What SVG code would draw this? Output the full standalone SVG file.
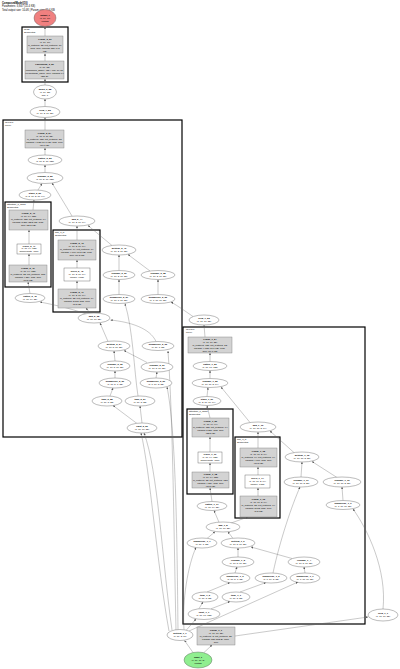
<svg xmlns="http://www.w3.org/2000/svg" width="400" height="669" viewBox="0 0 400 669">
<style>
.e{fill:#fff;stroke:#555;stroke-width:0.4}
.g{fill:#d3d3d3;stroke:#777;stroke-width:0.4}
.w{fill:#fff;stroke:#555;stroke-width:0.4}
.c{fill:none;stroke:#000;stroke-width:1.2}
.t{font-family:"Liberation Sans",Arial,sans-serif;font-size:2.3px;text-anchor:middle;fill:#000}
.b{font-weight:bold}
.cl{font-family:"Liberation Sans",Arial,sans-serif;font-size:2.4px;fill:#000}
.h{font-family:"Liberation Sans",Arial,sans-serif;font-size:2.6px;fill:#000}
#edges path{fill:none;stroke:#666;stroke-width:0.35;marker-end:url(#a)}
</style>
<defs>
<marker id="a" viewBox="0 0 10 10" refX="10" refY="5" markerWidth="2.2" markerHeight="2.2" markerUnits="userSpaceOnUse" orient="auto"><path d="M0,0 L10,5 L0,10 z" fill="#555"/></marker>
</defs>
<rect width="400" height="669" fill="#fff"/>
<g id="header">
<text class="h b" x="2" y="4">ComposedModel(10)</text>
<text class="h" x="2" y="7.3">Parameters: 3,847 (15.4 KB)</text>
<text class="h" x="2" y="10.6">Total output size: 10.4K | Param size: 15.4 KB</text>
</g>
<g id="clusters">
<rect class="c" x="22" y="27" width="46" height="55"/>
<text class="cl" x="24" y="30">head</text><text class="cl" x="24" y="33">Sequential</text>
<rect class="c" x="3" y="120" width="179" height="317"/>
<text class="cl" x="5" y="123">layers.1</text><text class="cl" x="5" y="126">Layer</text>
<rect class="c" x="5" y="202" width="46" height="85"/>
<text class="cl" x="7" y="205">attention_1_block</text><text class="cl" x="7" y="208">Sequential</text>
<rect class="c" x="53" y="230" width="47" height="82"/>
<text class="cl" x="55" y="233">mlp_1_ff</text><text class="cl" x="55" y="236">Sequential</text>
<rect class="c" x="183" y="327" width="182" height="297"/>
<text class="cl" x="186" y="330">layers.0</text><text class="cl" x="186" y="333">Layer</text>
<rect class="c" x="187" y="409" width="46" height="85"/>
<text class="cl" x="189" y="412">attention_0_block</text><text class="cl" x="189" y="415">Sequential</text>
<rect class="c" x="235" y="437" width="45" height="81"/>
<text class="cl" x="237" y="440">mlp_0_ff</text><text class="cl" x="237" y="443">Sequential</text>
</g>
<g id="edges">
<path d="M45,36 L45,27"/>
<path d="M45,61 L45,53.5"/>
<path d="M45,85 L45,79"/>
<path d="M45,106.5 L45,99"/>
<path d="M45,130 L45,117.5"/>
<path d="M45,155 L45,148"/>
<path d="M45,172.5 L45,165"/>
<path d="M38,190 L42,183.5"/>
<path d="M72,216 L52,183"/>
<path d="M33,210 L34,200"/>
<path d="M29,244 L29,230"/>
<path d="M29,265 L29,254"/>
<path d="M30,293.5 L28,282"/>
<path d="M86,314 C70,308 50,304 40,302"/>
<path d="M77,240 L77,226"/>
<path d="M77,268 L77,260"/>
<path d="M77,289 L77,281"/>
<path d="M90,313 L86,308"/>
<path d="M112,245.5 L88,225.5"/>
<path d="M119,270.5 L119,255"/>
<path d="M150,271 L128,254.5"/>
<path d="M119,294.5 L119,279.5"/>
<path d="M158,294.5 L158,279.5"/>
<path d="M193,316.5 C185,311 178,306 171,302"/>
<path d="M138,396 C134,370 133,330 125,303.5"/>
<path d="M108,341.5 L100,323"/>
<path d="M156,341.5 C150,328 130,322 110.5,320"/>
<path d="M115,361 L114,351"/>
<path d="M147,362.5 L124,350.5"/>
<path d="M115,378 L115,371"/>
<path d="M156,378 L157,372"/>
<path d="M110,396 L113,388"/>
<path d="M137,423.5 L113,405.5"/>
<path d="M142,423 L140,406"/>
<path d="M172,630 C162,560 158,470 144,433"/>
<path d="M169,631 C157,565 150,470 141,433"/>
<path d="M176,630 C174,540 173,420 168,351"/>
<path d="M178,630 C177,540 176,430 167,387"/>
<path d="M205,337 L204,325"/>
<path d="M210,361.5 L210,353"/>
<path d="M210,378.5 L210,370.5"/>
<path d="M207,396.5 L208,387.5"/>
<path d="M250,422.5 L221,387"/>
<path d="M210,418 L207,405.5"/>
<path d="M210,452 L210,437"/>
<path d="M210,472 L210,463"/>
<path d="M212,501.5 L210,488"/>
<path d="M258,448 L258,432"/>
<path d="M258,475 L258,467"/>
<path d="M258,496 L258,488"/>
<path d="M231,523 L248,517"/>
<path d="M219,522.3 L214,510.5"/>
<path d="M294,452.6 L270,431"/>
<path d="M301,477 L302,462"/>
<path d="M337,477.5 L312,461.5"/>
<path d="M343,500.5 L342,487"/>
<path d="M383,609 C387,570 368,530 353,509"/>
<path d="M207,538.5 L215,531.8"/>
<path d="M233,538.5 L228,531.8"/>
<path d="M238,557 L238,548"/>
<path d="M292,558.5 L251,547"/>
<path d="M235,573 L237,567"/>
<path d="M305,573 L304,567"/>
<path d="M273,573 C280,540 292,505 300,487"/>
<path d="M207,592 L230,582.5"/>
<path d="M240,592 L266,582.5"/>
<path d="M199,608.6 L203,602"/>
<path d="M211,608.8 L230,601.5"/>
<path d="M184,629.5 C182,600 188,565 196,547.5"/>
<path d="M186,630.5 L196,619"/>
<path d="M189,631 L298,582"/>
<path d="M235,636 L368,617"/>
<path d="M193,652.5 L184.5,640.5"/>
<path d="M204,652.5 L212,645"/>
</g>
<g id="n_output"><ellipse cx="45" cy="18" rx="11" ry="8.5" fill="#f08080" stroke="#555" stroke-width="0.4"/>
<text class="t b" x="45" y="15.5">output_1</text><text class="t" x="45" y="18.5">(1, 16, 10)</text><text class="t" x="45" y="21.5">float32</text></g>
<g id="n_head_linear"><rect class="g" x="27" y="36" width="36" height="17"/>
<text class="t b" x="45" y="39.5">Linear_3_61</text><text class="t" x="45" y="42.5">(1, 16, 10)</text><text class="t" x="45" y="45.5">in_features=32, out_features=10,</text><text class="t" x="45" y="48.5">bias=True, params: 330 (1.3</text><text class="t" x="45" y="51.5">KB)</text></g>
<g id="n_head_norm"><rect class="g" x="25" y="61" width="39" height="18"/>
<text class="t b" x="44.5" y="64.5">LayerNorm_3_59</text><text class="t" x="44.5" y="67.5">(1, 16, 32)</text><text class="t" x="44.5" y="70.5">normalized_shape=(32,), eps=1e-05,</text><text class="t" x="44.5" y="73.5">elementwise_affine=True, params: 64</text><text class="t" x="44.5" y="76.5">(256 B)</text></g>
<g id="n_mean"><ellipse class="e" cx="45" cy="92" rx="11.5" ry="7"/>
<text class="t b" x="45" y="89.5">mean_3_58</text><text class="t" x="45" y="92.5">(1, 16, 32)</text><text class="t" x="45" y="95.5">dim=1</text></g>
<g id="n_view"><ellipse class="e" cx="45" cy="112" rx="15" ry="5.5"/>
<text class="t b" x="45" y="111">view_7_55</text><text class="t" x="45" y="114">(1, 16, 2, 16, 32)</text></g>
<g id="n_l1_linear"><rect class="g" x="25" y="130" width="39" height="18"/>
<text class="t b" x="44.5" y="133.5">Linear_2_54</text><text class="t" x="44.5" y="136.5">(1, 16, 2, 16, 32)</text><text class="t" x="44.5" y="139.5">in_features=128, out_features=32,</text><text class="t" x="44.5" y="142.5">params: 4,128 (16.1 KB), bias=True</text><text class="t" x="44.5" y="145.5">(16.1 KB)</text></g>
<g id="n_flatten1"><ellipse class="e" cx="45" cy="160" rx="17" ry="5"/>
<text class="t b" x="45" y="159">flatten_2_53</text><text class="t" x="45" y="162">(1, 16, 2, 16, 128)</text></g>
<g id="n_reshape1"><ellipse class="e" cx="45" cy="178" rx="18" ry="5.5"/>
<text class="t b" x="45" y="177">reshape_2_52</text><text class="t" x="45" y="180">(1, 16, 2, 16, 128)</text></g>
<g id="n_stack1"><ellipse class="e" cx="35" cy="195" rx="16" ry="5"/>
<text class="t b" x="35" y="194">stack_2_50</text><text class="t" x="35" y="197">(1, 2, 16, 2, 16, 64)</text></g>
<g id="n_l1_a_lin1"><rect class="g" x="9" y="210" width="39" height="20"/>
<text class="t b" x="28.5" y="214">Linear_2_49</text><text class="t" x="28.5" y="217">(1, 16, 64, 128)</text><text class="t" x="28.5" y="220">in_features=128, out_features=64,</text><text class="t" x="28.5" y="223">params: 8,256 (32.2 KB), bias=</text><text class="t" x="28.5" y="226">True (32.2 KB)</text></g>
<g id="n_l1_a_gelu"><rect class="w" x="17" y="244" width="24" height="10"/>
<text class="t b" x="29" y="246.8">GELU_2_47</text><text class="t" x="29" y="249.4">(1, 16, 64, 128)</text><text class="t" x="29" y="252">approximate=none</text></g>
<g id="n_l1_a_lin0"><rect class="g" x="9" y="265" width="38" height="17"/>
<text class="t b" x="28" y="268.5">Linear_2_46</text><text class="t" x="28" y="271.5">(1, 16, 64, 128)</text><text class="t" x="28" y="274.5">in_features=32, out_features=128,</text><text class="t" x="28" y="277.5">params: 4,224, bias=True</text><text class="t" x="28" y="280.5">(16.5 KB)</text></g>
<g id="n_flatten2"><ellipse class="e" cx="30" cy="298" rx="15" ry="4.5"/>
<text class="t b" x="30" y="297">flatten_2_45</text><text class="t" x="30" y="300">(1, 16, 64, 32)</text></g>
<g id="n_add1"><ellipse class="e" cx="77" cy="221" rx="18" ry="5"/>
<text class="t b" x="77" y="220">add_2_44</text><text class="t" x="77" y="223">(1, 16, 2, 16, 64)</text></g>
<g id="n_l1_b_lin"><rect class="g" x="58" y="240" width="38" height="20"/>
<text class="t b" x="77" y="244">Linear_2_43</text><text class="t" x="77" y="247">(1, 16, 2, 16, 64)</text><text class="t" x="77" y="250">in_features=64, out_features=64,</text><text class="t" x="77" y="253">params: 4,160 (16.3 KB), bias=</text><text class="t" x="77" y="256">True (16.3 KB)</text></g>
<g id="n_l1_b_relu"><rect class="w" x="64" y="268" width="26" height="13"/>
<text class="t b" x="77" y="271.5">ReLU_2_42</text><text class="t" x="77" y="274.5">(1, 16, 2, 16, 64)</text><text class="t" x="77" y="277.5">inplace=False</text></g>
<g id="n_l1_b_lin0"><rect class="g" x="58" y="289" width="38" height="19"/>
<text class="t b" x="77" y="292.8">Linear_2_41</text><text class="t" x="77" y="295.8">(1, 16, 2, 16, 64)</text><text class="t" x="77" y="298.8">in_features=32, out_features=64,</text><text class="t" x="77" y="301.8">params: 2,112, bias=True</text><text class="t" x="77" y="304.8">(8.3 KB)</text></g>
<g id="n_getitem1"><ellipse class="e" cx="119" cy="250" rx="17" ry="5"/>
<text class="t b" x="119" y="249">getitem_2_40</text><text class="t" x="119" y="252">(1, 16, 2, 16, 32)</text></g>
<g id="n_reshape2"><ellipse class="e" cx="119" cy="275" rx="16" ry="4.5"/>
<text class="t b" x="119" y="274">reshape_2_39</text><text class="t" x="119" y="277">(1, 16, 2, 16, 32)</text></g>
<g id="n_reshape3"><ellipse class="e" cx="158" cy="275" rx="17" ry="4.5"/>
<text class="t b" x="158" y="274">reshape_2_38</text><text class="t" x="158" y="277">(1, 16, 2, 16, 32)</text></g>
<g id="n_unsq1"><ellipse class="e" cx="119" cy="299" rx="16" ry="4.5"/>
<text class="t b" x="119" y="298">unsqueeze_2_37</text><text class="t" x="119" y="301">(1, 16, 1, 16, 32)</text></g>
<g id="n_unsq2"><ellipse class="e" cx="158" cy="299" rx="17" ry="4.5"/>
<text class="t b" x="158" y="298">unsqueeze_2_36</text><text class="t" x="158" y="301">(1, 1, 16, 16, 32)</text></g>
<g id="n_add2"><ellipse class="e" cx="94" cy="318" rx="16" ry="5"/>
<text class="t b" x="94" y="317">add_2_35</text><text class="t" x="94" y="320">(1, 16, 16, 32)</text></g>
<g id="n_getitem2"><ellipse class="e" cx="114" cy="346" rx="16" ry="5"/>
<text class="t b" x="114" y="345">getitem_2_34</text><text class="t" x="114" y="348">(1, 16, 5, 16, 32)</text></g>
<g id="n_unsq3"><ellipse class="e" cx="158" cy="346" rx="16" ry="4.5"/>
<text class="t b" x="158" y="345">unsqueeze_2_33</text><text class="t" x="158" y="348">(1, 16, 1, 32)</text></g>
<g id="n_reshape4"><ellipse class="e" cx="115" cy="366" rx="15" ry="5"/>
<text class="t b" x="115" y="365">reshape_2_32</text><text class="t" x="115" y="368">(1, 16, 5, 16, 32)</text></g>
<g id="n_reshape5"><ellipse class="e" cx="157" cy="367" rx="16" ry="5"/>
<text class="t b" x="157" y="366">reshape_2_31</text><text class="t" x="157" y="369">(1, 16, 5, 16, 32)</text></g>
<g id="n_unsq4"><ellipse class="e" cx="115" cy="383" rx="16" ry="5"/>
<text class="t b" x="115" y="382">unsqueeze_2_30</text><text class="t" x="115" y="385">(1, 16, 5, 1, 32)</text></g>
<g id="n_unsq5"><ellipse class="e" cx="156" cy="383" rx="16" ry="5"/>
<text class="t b" x="156" y="382">unsqueeze_2_29</text><text class="t" x="156" y="385">(1, 1, 16, 5, 32)</text></g>
<g id="n_topk1"><ellipse class="e" cx="107" cy="401" rx="15" ry="5"/>
<text class="t b" x="107" y="400">topk_2_28</text><text class="t" x="107" y="403">(1, 16, 5, 32)</text></g>
<g id="n_topk2"><ellipse class="e" cx="140" cy="401" rx="15" ry="5"/>
<text class="t b" x="140" y="400">topk_2_27</text><text class="t" x="140" y="403">(1, 16, 5, 32)</text></g>
<g id="n_cdist1"><ellipse class="e" cx="142" cy="428" rx="15" ry="5"/>
<text class="t b" x="142" y="427">cdist_2_26</text><text class="t" x="142" y="430">(1, 16, 16, 32)</text></g>
<g id="n_stack0"><ellipse class="e" cx="204" cy="320" rx="15" ry="5"/>
<text class="t b" x="204" y="319">view_1_25</text><text class="t" x="204" y="322">(1, 16, 16, 32)</text></g>
<g id="n_l0_linear"><rect class="g" x="188" y="337" width="44" height="16"/>
<text class="t b" x="210" y="340.3">Linear_1_24</text><text class="t" x="210" y="343.3">(1, 16, 16, 32)</text><text class="t" x="210" y="346.3">in_features=128, out_features=32,</text><text class="t" x="210" y="349.3">params: 4,128 (16.1 KB), bias=</text><text class="t" x="210" y="352.3">True (16.1 KB)</text></g>
<g id="n_flatten3"><ellipse class="e" cx="210" cy="366" rx="17" ry="4.5"/>
<text class="t b" x="210" y="365">flatten_1_23</text><text class="t" x="210" y="368">(1, 16, 16, 128)</text></g>
<g id="n_reshape6"><ellipse class="e" cx="210" cy="383" rx="18" ry="4.5"/>
<text class="t b" x="210" y="382">reshape_1_22</text><text class="t" x="210" y="385">(1, 16, 16, 2, 64)</text></g>
<g id="n_stack2"><ellipse class="e" cx="207" cy="401" rx="14" ry="4.5"/>
<text class="t b" x="207" y="400">stack_1_21</text><text class="t" x="207" y="403">(1, 2, 16, 16, 64)</text></g>
<g id="n_l0_a_lin1"><rect class="g" x="192" y="418" width="37" height="19"/>
<text class="t b" x="210.5" y="421.8">Linear_1_20</text><text class="t" x="210.5" y="424.8">(1, 16, 64, 64)</text><text class="t" x="210.5" y="427.8">in_features=128, out_features=64,</text><text class="t" x="210.5" y="430.8">params: 8,256, bias=True</text><text class="t" x="210.5" y="433.8">(32.2 KB)</text></g>
<g id="n_l0_a_gelu"><rect class="w" x="198" y="452" width="24" height="11"/>
<text class="t b" x="210" y="455.2">GELU_1_19</text><text class="t" x="210" y="457.9">(1, 16, 64, 128)</text><text class="t" x="210" y="460.6">approximate=none</text></g>
<g id="n_l0_a_lin0"><rect class="g" x="192" y="472" width="37" height="16"/>
<text class="t b" x="210.5" y="475.3">Linear_1_18</text><text class="t" x="210.5" y="478.3">(1, 16, 64, 128)</text><text class="t" x="210.5" y="481.3">in_features=32, out_features=128,</text><text class="t" x="210.5" y="484.3">params: 4,224, bias=True</text><text class="t" x="210.5" y="487.3">(16.5 KB)</text></g>
<g id="n_flatten4"><ellipse class="e" cx="212" cy="506" rx="15" ry="4.5"/>
<text class="t b" x="212" y="505">flatten_1_17</text><text class="t" x="212" y="508">(1, 16, 64, 32)</text></g>
<g id="n_add3"><ellipse class="e" cx="258" cy="427" rx="18" ry="5"/>
<text class="t b" x="258" y="426">add_1_16</text><text class="t" x="258" y="429">(1, 16, 16, 2, 64)</text></g>
<g id="n_l0_b_lin"><rect class="g" x="240" y="448" width="37" height="19"/>
<text class="t b" x="258.5" y="451.8">Linear_1_15</text><text class="t" x="258.5" y="454.8">(1, 16, 16, 2, 64)</text><text class="t" x="258.5" y="457.8">in_features=64, out_features=64,</text><text class="t" x="258.5" y="460.8">params: 4,160, bias=True</text><text class="t" x="258.5" y="463.8">(16.3 KB)</text></g>
<g id="n_l0_b_relu"><rect class="w" x="245" y="475" width="25" height="13"/>
<text class="t b" x="257.5" y="478.5">ReLU_1_14</text><text class="t" x="257.5" y="481.5">(1, 16, 16, 2, 64)</text><text class="t" x="257.5" y="484.5">inplace=False</text></g>
<g id="n_l0_b_lin0"><rect class="g" x="240" y="496" width="37" height="21"/>
<text class="t b" x="258.5" y="500">Linear_1_13</text><text class="t" x="258.5" y="503">(1, 16, 16, 2, 64)</text><text class="t" x="258.5" y="506">in_features=32, out_features=64,</text><text class="t" x="258.5" y="509">params: 2,112, bias=True</text><text class="t" x="258.5" y="512">(8.3 KB)</text></g>
<g id="n_getitem3"><ellipse class="e" cx="302" cy="457" rx="17" ry="5"/>
<text class="t b" x="302" y="456">getitem_1_12</text><text class="t" x="302" y="459">(1, 16, 16, 2, 32)</text></g>
<g id="n_reshape7"><ellipse class="e" cx="301" cy="482" rx="17" ry="5"/>
<text class="t b" x="301" y="481">reshape_1_11</text><text class="t" x="301" y="484">(1, 16, 16, 2, 32)</text></g>
<g id="n_reshape8"><ellipse class="e" cx="342" cy="482" rx="19" ry="5"/>
<text class="t b" x="342" y="481">reshape_1_10</text><text class="t" x="342" y="484">(1, 16, 16, 2, 32)</text></g>
<g id="n_unsq6"><ellipse class="e" cx="343" cy="505" rx="17" ry="4.5"/>
<text class="t b" x="343" y="504">unsqueeze_1_9</text><text class="t" x="343" y="507">(1, 1, 16, 16, 32)</text></g>
<g id="n_add4"><ellipse class="e" cx="223" cy="527" rx="17" ry="5"/>
<text class="t b" x="223" y="526">add_1_8</text><text class="t" x="223" y="529">(1, 16, 16, 32)</text></g>
<g id="n_unsq7"><ellipse class="e" cx="202" cy="543" rx="15" ry="5"/>
<text class="t b" x="202" y="542">unsqueeze_1_7</text><text class="t" x="202" y="545">(1, 16, 1, 32)</text></g>
<g id="n_getitem4"><ellipse class="e" cx="238" cy="543" rx="17" ry="5"/>
<text class="t b" x="238" y="542">getitem_1_6</text><text class="t" x="238" y="545">(1, 16, 5, 16, 32)</text></g>
<g id="n_reshape9"><ellipse class="e" cx="238" cy="562" rx="16" ry="5"/>
<text class="t b" x="238" y="561">reshape_1_5</text><text class="t" x="238" y="564">(1, 16, 5, 16, 32)</text></g>
<g id="n_reshape10"><ellipse class="e" cx="304" cy="562" rx="16" ry="5"/>
<text class="t b" x="304" y="561">reshape_1_4</text><text class="t" x="304" y="564">(1, 16, 5, 16, 32)</text></g>
<g id="n_unsq8"><ellipse class="e" cx="235" cy="578" rx="15" ry="5"/>
<text class="t b" x="235" y="577">unsqueeze_1_3</text><text class="t" x="235" y="580">(1, 16, 5, 1, 32)</text></g>
<g id="n_unsq9"><ellipse class="e" cx="271" cy="578" rx="16" ry="5"/>
<text class="t b" x="271" y="577">unsqueeze_1_2</text><text class="t" x="271" y="580">(1, 1, 16, 5, 32)</text></g>
<g id="n_unsq10"><ellipse class="e" cx="305" cy="578" rx="15" ry="5"/>
<text class="t b" x="305" y="577">unsqueeze_1_1</text><text class="t" x="305" y="580">(1, 1, 16, 16, 32)</text></g>
<g id="n_topk3"><ellipse class="e" cx="205" cy="597" rx="13" ry="5"/>
<text class="t b" x="205" y="596">topk_1_2</text><text class="t" x="205" y="599">(1, 16, 5, 32)</text></g>
<g id="n_topk4"><ellipse class="e" cx="236" cy="597" rx="14" ry="5"/>
<text class="t b" x="236" y="596">topk_1_1</text><text class="t" x="236" y="599">(1, 16, 5, 32)</text></g>
<g id="n_cdist2"><ellipse class="e" cx="204" cy="614" rx="16" ry="5.5"/>
<text class="t b" x="204" y="613">cdist_1_1</text><text class="t" x="204" y="616">(1, 16, 16, 128)</text></g>
<g id="n_view2"><ellipse class="e" cx="383" cy="615" rx="15" ry="6"/>
<text class="t b" x="383" y="614">view_1_1</text><text class="t" x="383" y="617">(1, 16, 16, 32)</text></g>
<g id="n_getitem5"><ellipse class="e" cx="180" cy="635" rx="13" ry="5.5"/>
<text class="t b" x="180" y="634">getitem_1_1</text><text class="t" x="180" y="637">(1, 16, 3, 16)</text></g>
<g id="n_embed"><rect class="g" x="197" y="627" width="38" height="18"/>
<text class="t b" x="216" y="630.5">Linear_1_1</text><text class="t" x="216" y="633.5">(1, 16, 16, 32)</text><text class="t" x="216" y="636.5">in_features=3, out_features=32,</text><text class="t" x="216" y="639.5">params: 128 (512 B), bias=</text><text class="t" x="216" y="642.5">True</text></g>
<g id="n_input"><ellipse cx="198" cy="660" rx="14" ry="8" fill="#90ee90" stroke="#555" stroke-width="0.4"/>
<text class="t b" x="198" y="657.5">input_1</text><text class="t" x="198" y="660.5">(1, 16, 16, 3)</text><text class="t" x="198" y="663.5">float32</text></g>
</svg>
